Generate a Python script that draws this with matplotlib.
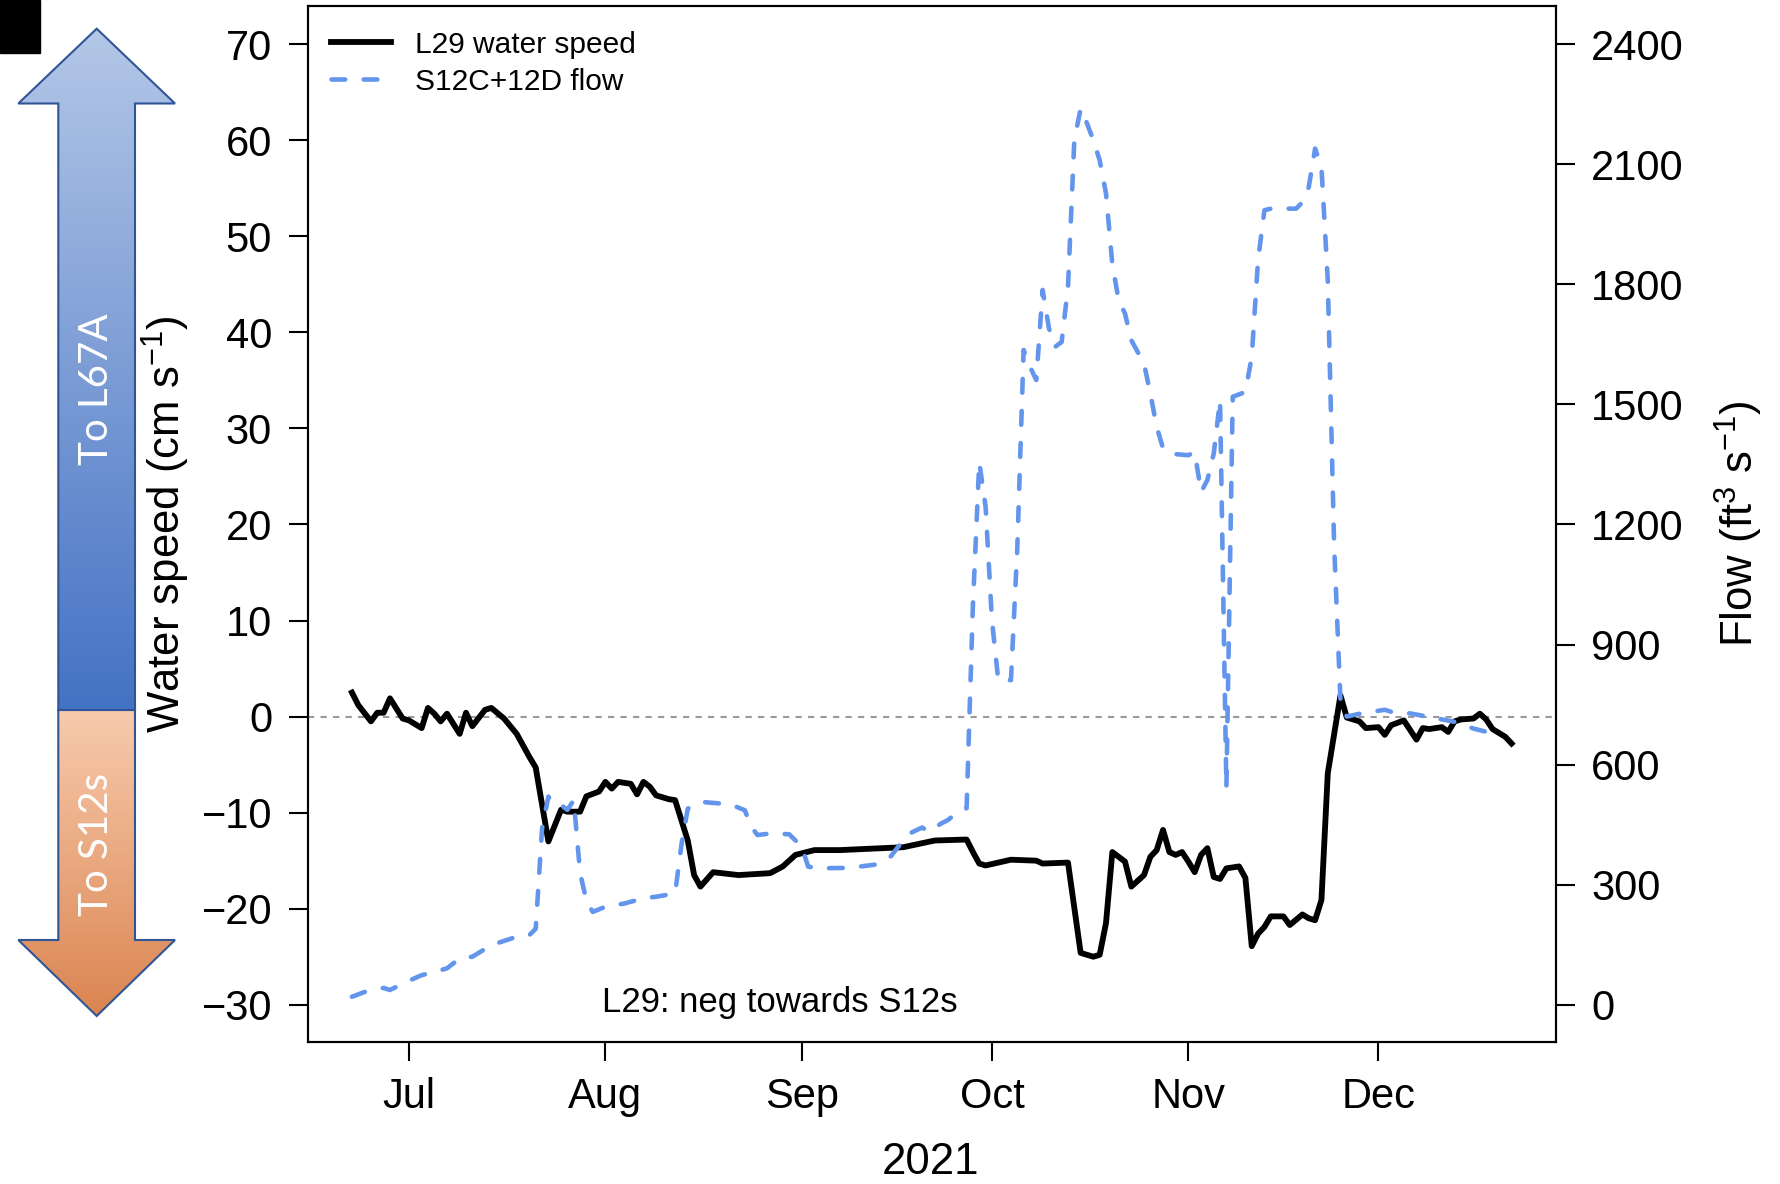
import numpy as np
import matplotlib
matplotlib.use('Agg')
import matplotlib.pyplot as plt
import matplotlib.dates as mdates
from matplotlib.patches import Polygon, Rectangle
from matplotlib.colors import LinearSegmentedColormap

plt.rcParams['font.family'] = ['Liberation Sans', 'DejaVu Sans']
plt.rcParams['mathtext.fontset'] = 'custom'
plt.rcParams['mathtext.rm'] = 'Liberation Sans'
plt.rcParams['mathtext.it'] = 'Liberation Sans:italic'
plt.rcParams['mathtext.default'] = 'regular'

#%% L29 water speed (cm/s)
speed_dates = [
    '2021-06-22', '2021-06-23', '2021-06-25', '2021-06-26', '2021-06-27', '2021-06-28',
    '2021-06-30', '2021-07-01', '2021-07-03', '2021-07-04', '2021-07-05', '2021-07-06',
    '2021-07-07', '2021-07-09', '2021-07-10', '2021-07-11', '2021-07-13', '2021-07-14',
    '2021-07-16', '2021-07-17', '2021-07-18', '2021-07-20', '2021-07-21', '2021-07-23',
    '2021-07-25', '2021-07-26', '2021-07-28', '2021-07-29', '2021-07-31', '2021-08-01',
    '2021-08-02', '2021-08-03', '2021-08-05', '2021-08-06', '2021-08-07', '2021-08-08',
    '2021-08-09', '2021-08-11', '2021-08-12', '2021-08-14', '2021-08-15', '2021-08-16',
    '2021-08-18', '2021-08-22', '2021-08-27', '2021-08-29', '2021-08-31', '2021-09-03',
    '2021-09-07', '2021-09-17', '2021-09-22', '2021-09-27', '2021-09-28', '2021-09-29',
    '2021-09-30', '2021-10-04', '2021-10-08', '2021-10-09', '2021-10-13', '2021-10-15',
    '2021-10-17', '2021-10-18', '2021-10-19', '2021-10-20', '2021-10-22', '2021-10-23',
    '2021-10-25', '2021-10-26', '2021-10-27', '2021-10-28', '2021-10-29', '2021-10-30',
    '2021-10-31', '2021-11-01', '2021-11-02', '2021-11-03', '2021-11-04', '2021-11-05',
    '2021-11-06', '2021-11-07', '2021-11-09', '2021-11-10', '2021-11-11', '2021-11-12',
    '2021-11-13', '2021-11-14', '2021-11-16', '2021-11-17', '2021-11-19', '2021-11-20',
    '2021-11-21', '2021-11-22', '2021-11-23', '2021-11-25', '2021-11-26', '2021-11-28',
    '2021-11-29', '2021-12-01', '2021-12-02', '2021-12-03', '2021-12-05', '2021-12-07',
    '2021-12-08', '2021-12-09', '2021-12-11', '2021-12-12', '2021-12-13', '2021-12-14',
    '2021-12-16', '2021-12-17', '2021-12-18', '2021-12-19', '2021-12-21', '2021-12-22']
speed = [
    2.5, 1.2, -0.5, 0.4, 0.4, 1.9,
    -0.2, -0.4, -1.2, 0.9, 0.3, -0.5,
    0.3, -1.8, 0.4, -1.0, 0.7, 0.9,
    -0.2, -1.0, -1.8, -4.2, -5.3, -13.0,
    -9.7, -9.9, -9.9, -8.3, -7.8, -6.8,
    -7.5, -6.8, -7.0, -8.1, -6.8, -7.3,
    -8.2, -8.6, -8.7, -12.9, -16.5, -17.7,
    -16.2, -16.5, -16.3, -15.6, -14.4, -13.9,
    -13.9, -13.6, -12.9, -12.8, -14.1, -15.3,
    -15.5, -14.9, -15.0, -15.3, -15.2, -24.6,
    -25.0, -24.8, -21.5, -14.1, -15.1, -17.7,
    -16.5, -14.6, -13.9, -11.8, -14.1, -14.4,
    -14.1, -15.1, -16.2, -14.4, -13.7, -16.7,
    -16.9, -15.8, -15.6, -16.8, -23.9, -22.6,
    -21.9, -20.8, -20.8, -21.7, -20.6, -21.0,
    -21.2, -19.1, -5.9, 2.2, -0.1, -0.5,
    -1.2, -1.1, -1.9, -0.9, -0.4, -2.4,
    -1.2, -1.3, -1.1, -1.6, -0.5, -0.3,
    -0.2, 0.3, -0.3, -1.3, -2.1, -2.8]

#%% S12C + S12D flow (ft3/s)
flow_dates = [
    '2021-06-22', '2021-06-24', '2021-06-27', '2021-06-28', '2021-07-01', '2021-07-03',
    '2021-07-05', '2021-07-07', '2021-07-09', '2021-07-11', '2021-07-14', '2021-07-18',
    '2021-07-20', '2021-07-21', '2021-07-22', '2021-07-23', '2021-07-24', '2021-07-25',
    '2021-07-26', '2021-07-27', '2021-07-28', '2021-07-29', '2021-07-30', '2021-08-01',
    '2021-08-04', '2021-08-07', '2021-08-09', '2021-08-12', '2021-08-13', '2021-08-14',
    '2021-08-16', '2021-08-19', '2021-08-21', '2021-08-23', '2021-08-24', '2021-08-25',
    '2021-08-27', '2021-08-30', '2021-09-01', '2021-09-02', '2021-09-04', '2021-09-08',
    '2021-09-10', '2021-09-13', '2021-09-15', '2021-09-17', '2021-09-18', '2021-09-20',
    '2021-09-21', '2021-09-23', '2021-09-24', '2021-09-26', '2021-09-27', '2021-09-28',
    '2021-09-29', '2021-09-30', '2021-10-01', '2021-10-02', '2021-10-04', '2021-10-05',
    '2021-10-06', '2021-10-07', '2021-10-08', '2021-10-09', '2021-10-10', '2021-10-11',
    '2021-10-12', '2021-10-13', '2021-10-14', '2021-10-15', '2021-10-16', '2021-10-17',
    '2021-10-18', '2021-10-19', '2021-10-20', '2021-10-21', '2021-10-22', '2021-10-23',
    '2021-10-25', '2021-10-26', '2021-10-27', '2021-10-28', '2021-10-29', '2021-11-01',
    '2021-11-02', '2021-11-03', '2021-11-04', '2021-11-05', '2021-11-06', '2021-11-07',
    '2021-11-08', '2021-11-10', '2021-11-11', '2021-11-12', '2021-11-13', '2021-11-14',
    '2021-11-18', '2021-11-19', '2021-11-20', '2021-11-21', '2021-11-22', '2021-11-23',
    '2021-11-24', '2021-11-25', '2021-11-26', '2021-11-28', '2021-12-02', '2021-12-03',
    '2021-12-06', '2021-12-10', '2021-12-13', '2021-12-16', '2021-12-18', '2021-12-20']
flow = [
    20, 32, 42, 37, 60, 74,
    82, 91, 116, 120, 149, 170,
    174, 190, 440, 520, 499, 499,
    487, 511, 330, 260, 232, 245,
    253, 266, 270, 278, 400, 490,
    507, 503, 499, 486, 445, 424,
    428, 426, 395, 345, 341, 342,
    345, 351, 370, 411, 428, 443,
    432, 453, 461, 486, 491, 1000,
    1356, 1244, 961, 811, 811, 1140,
    1636, 1594, 1561, 1786, 1690, 1644,
    1656, 1793, 2160, 2239, 2202, 2160,
    2110, 2027, 1850, 1760, 1727, 1660,
    1602, 1527, 1444, 1390, 1377, 1373,
    1381, 1281, 1311, 1377, 1511, 541,
    1519, 1531, 1619, 1861, 1985, 1989,
    1989, 2005, 2043, 2139, 2093, 1810,
    1150, 760, 720, 727, 737, 732,
    728, 716, 707, 690, 682, 670]

speed_ticks = list(range(-30, 71, 10))
flow_ticks = list(range(0, 2401, 300))

speed_t = np.array(speed_dates, dtype='datetime64[D]')
flow_t = np.array(flow_dates, dtype='datetime64[D]')

fig = plt.figure(figsize=(17.8, 11.84), dpi=100)

#%% direction arrow on the left (pixel coordinates)
deco = fig.add_axes([0, 0, 1, 1], zorder=-1)
deco.axis('off')

grad = np.linspace(0, 1, 256).reshape(-1, 1)
up_pts = [(96.7, 28.7), (175, 103.5), (135, 103.5), (135, 710), (58.3, 710),
          (58.3, 103.5), (18.3, 103.5)]
down_pts = [(58.3, 710), (135, 710), (135, 940), (175, 940), (96.7, 1016),
            (18.3, 940), (58.3, 940)]
up = Polygon(up_pts, closed=True, facecolor='none', edgecolor='#2f5597', lw=1.5, zorder=3)
down = Polygon(down_pts, closed=True, facecolor='none', edgecolor='#2f5597', lw=1.5, zorder=3)
deco.add_patch(up)
deco.add_patch(down)
blues = LinearSegmentedColormap.from_list('bl', ['#b4c7e7', '#4472c4'])
oranges = LinearSegmentedColormap.from_list('or', ['#f8cbad', '#da8450'])
im1 = deco.imshow(grad, cmap=blues, extent=(18, 176, 710, 28), aspect='auto', zorder=1)
im1.set_clip_path(up)
im2 = deco.imshow(grad, cmap=oranges, extent=(18, 176, 1017, 710), aspect='auto', zorder=1)
im2.set_clip_path(down)
deco.set_xlim(0, 1780)
deco.set_ylim(1184, 0)
deco.text(97, 389, 'To L67A', rotation=90, color='white', fontsize=29,
          family=['Lato', 'DejaVu Sans'], ha='center', va='center')
deco.text(97, 844, 'To S12s', rotation=90, color='white', fontsize=29,
          family=['Lato', 'DejaVu Sans'], ha='center', va='center')
deco.add_patch(Rectangle((0, 0), 40, 53, color='black'))

#%% main axes
ax = fig.add_axes([0.1728, 0.1199, 0.7013, 0.8752])
ax.axhline(0, color='#9a9a9a', lw=1.5, dashes=(3, 3), zorder=1)
h1, = ax.plot(speed_t, speed, color='black', lw=4.2, solid_joinstyle='round', zorder=3)
ax.set_ylim(-33.88, 73.99)
ax.set_yticks(speed_ticks)
ax.set_xlim(np.datetime64('2021-06-15'), np.datetime64('2021-12-29'))
ax.xaxis.set_major_locator(mdates.MonthLocator(bymonth=range(7, 13)))
ax.xaxis.set_major_formatter(mdates.DateFormatter('%b'))

ax2 = ax.twinx()
h2, = ax2.plot(flow_t, flow, color='cornflowerblue', lw=3.3, dashes=(3.0, 4.0),
               dash_capstyle='round', zorder=2)
ax2.set_ylim(-93.1, 2495.8)
ax2.set_yticks(flow_ticks)

for a in (ax, ax2):
    a.tick_params(direction='out', length=13.5, width=1.5, labelsize=30, pad=12)
    for s in a.spines.values():
        s.set_linewidth(1.5)

ax2.legend([h1, h2], ['L29 water speed', 'S12C+12D flow'], loc='upper left',
           bbox_to_anchor=(0.019, 0.976), frameon=False, fontsize=21.5,
           handlelength=2.0, handletextpad=0.8, labelspacing=0.3,
           borderpad=0, borderaxespad=0)

ax.text(0.2358, 0.0386, 'L29: neg towards S12s', transform=ax.transAxes,
        fontsize=25, ha='left', va='center')

fig.text(931 / 1780, 1 - 1163 / 1184, '2021', ha='center', va='center', fontsize=31.5)
fig.text(166 / 1780, 1 - 524 / 1184, 'Water speed (cm s$^{-1}$)', rotation=90,
         ha='center', va='center', fontsize=31.5)
fig.text(1739 / 1780, 1 - 524 / 1184, 'Flow (ft$^{3}$ s$^{-1}$)', rotation=90,
         ha='center', va='center', fontsize=31.5)

fig.savefig('out.png', dpi=100)
